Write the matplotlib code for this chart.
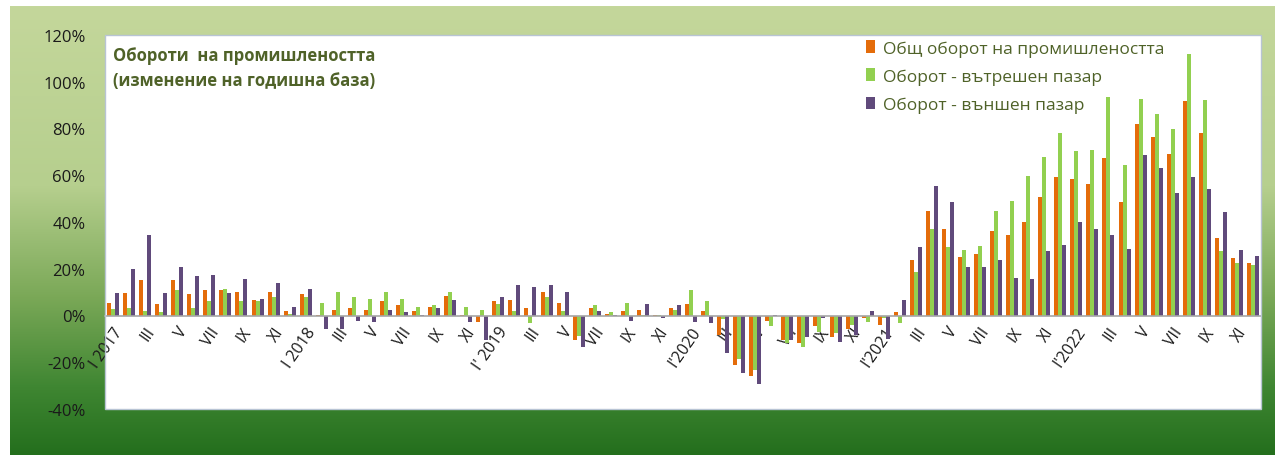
import numpy as np
import matplotlib
matplotlib.use("Agg")
import matplotlib.pyplot as plt
from matplotlib.colors import LinearSegmentedColormap
from matplotlib.patches import Rectangle

plt.rcParams["font.family"] = ["Open Sans", "DejaVu Sans"]

# Годишно изменение (%), януари 2017 - декември 2022
total = [5.4, 9.6, 15.0, 4.8, 15.0, 9.0, 10.7, 10.7, 10.1, 6.6, 10.1, 1.9,
         9.0, 0.3, 2.4, 3.0, 2.4, 6.0, 4.3, 1.9, 3.6, 8.4, 0.2, -2.9,
         6.0, 6.6, 3.0, 10.1, 5.4, -10.6, 3.0, 0.7, 1.9, 2.4, 0.1, 3.0,
         4.8, 1.9, -8.3, -21.0, -25.7, -2.3, -10.6, -11.8, -4.6, -9.4, -5.8, -1.1,
         -4.1, 1.3, 23.8, 44.9, 37.2, 25.0, 26.1, 36.2, 34.4, 40.2, 50.9, 59.2,
         58.6, 56.2, 67.4, 48.5, 82.0, 76.3, 69.2, 91.7, 78.0, 33.2, 24.4, 22.5]
domestic = [2.6, 3.1, 1.9, 1.3, 10.7, 3.0, 6.0, 11.3, 6.0, 6.0, 7.8, 0.7,
            7.8, 5.4, 10.1, 7.8, 7.1, 10.1, 7.1, 3.6, 4.3, 10.1, 3.6, 2.4,
            4.8, 1.9, -3.4, 7.8, 1.9, -8.8, 4.3, 1.3, 5.4, 0.1, 0.1, 2.4,
            10.7, 6.0, -1.7, -18.4, -23.4, -4.6, -11.8, -13.5, -7.0, -7.7, -4.1, -2.9,
            -1.1, -3.4, 18.4, 37.2, 29.1, 28.0, 29.7, 44.9, 49.1, 59.8, 68.0, 78.0,
            70.3, 71.0, 93.4, 64.5, 92.8, 86.3, 79.7, 111.7, 92.3, 27.4, 22.5, 21.4]
external = [9.6, 19.7, 34.4, 9.6, 20.8, 16.7, 17.3, 9.6, 15.5, 7.1, 13.7, 3.7,
            11.4, -5.8, -5.8, -2.3, -2.9, 2.4, 1.3, 0.2, 3.0, 6.6, -2.9, -10.6,
            7.8, 13.1, 12.0, 13.1, 10.1, -13.5, 1.9, 0.2, -2.3, 4.8, -1.1, 4.3,
            -2.9, -3.4, -16.0, -24.5, -29.4, 0.2, -10.6, -9.4, -1.1, -11.3, -8.3, 1.9,
            -10.0, 6.6, 29.1, 55.6, 48.5, 20.8, 20.8, 23.8, 16.1, 15.5, 27.4, 30.2,
            40.2, 37.2, 34.4, 28.5, 68.6, 63.3, 52.6, 59.2, 54.3, 44.3, 28.0, 25.5]

tick_labels = ["I 2017", "III", "V", "VII", "IX", "XI",
               "I 2018", "III", "V", "VII", "IX", "XI",
               "I' 2019", "III", "V", "VII", "IX", "XI",
               "I'2020", "III", "V", "VII", "IX", "XI",
               "I'2021", "III", "V", "VII", "IX", "XI",
               "I'2022", "III", "V", "VII", "IX", "XI"]

series_names = ["Общ оборот на промишлеността",
                "Оборот - вътрешен пазар",
                "Оборот - външен пазар"]
colors = ["#e46c0a", "#92d050", "#604a7b"]
text_green = "#4f6228"

fig = plt.figure(figsize=(12.75, 4.56), dpi=100)
fig.patch.set_facecolor("white")

# green gradient panel behind the chart
bg = fig.add_axes([10 / 1275, 0, 1 - 10 / 1275, 449 / 456], zorder=0)
cmap = LinearSegmentedColormap.from_list(
    "panel", [(0.0, "#c4d79b"), (0.4, "#b6cf8e"), (0.65, "#7aa857"),
              (0.85, "#3f8632"), (1.0, "#246f1d")])
grad = np.linspace(0, 1, 256).reshape(-1, 1)
bg.imshow(grad, aspect="auto", cmap=cmap, extent=[0, 1, 0, 1], origin="upper")
bg.set_axis_off()

ax = fig.add_axes([105 / 1275, 1 - 410 / 456, 1156 / 1275, 374 / 456], zorder=1)
ax.set_facecolor("white")

x = np.arange(len(total))
w = 0.25
for i, (vals, c, name) in enumerate(zip([total, domestic, external], colors, series_names)):
    ax.bar(x + (i - 1) * w, vals, width=w, color=c, label=name, zorder=2)

ax.set_xlim(-0.5, len(total) - 0.5)
ax.set_ylim(-40, 120)
ax.set_yticks(np.arange(-40, 121, 20))
ax.set_yticklabels([f"{v}%" for v in range(-40, 121, 20)], fontsize=12, color="#1a1a1a")
ax.tick_params(axis="y", length=0, pad=14)

# category axis crosses at zero
ax.spines["bottom"].set_position(("data", 0))
ax.spines["bottom"].set_color("#a6a6a6")
ax.spines["bottom"].set_linewidth(1.2)
for s in ["top", "left", "right"]:
    ax.spines[s].set_visible(False)
ax.add_patch(Rectangle((0, 0), 1, 1, transform=ax.transAxes, fill=False,
                       edgecolor="#b8c4d4", linewidth=1, zorder=3, clip_on=False))

ax.set_xticks(x[::2])
ax.set_xticklabels(tick_labels, rotation=55, ha="right", va="top",
                   rotation_mode="anchor", fontsize=11.5, color="#1a1a1a")
ax.tick_params(axis="x", length=0, pad=6)

ax.text(0.007, 0.97, "Обороти  на промишлеността\n(изменение на годишна база)",
        transform=ax.transAxes, ha="left", va="top", fontsize=12,
        fontweight="bold", color=text_green, linespacing=1.45)

leg = ax.legend(loc="upper left", bbox_to_anchor=(0.645, 1.028), frameon=False,
                fontsize=12.5, handlelength=0.5, handleheight=0.75,
                handletextpad=0.45, labelspacing=0.68)
for t in leg.get_texts():
    t.set_color(text_green)

fig.savefig("out.png", dpi=100, facecolor=fig.get_facecolor())
